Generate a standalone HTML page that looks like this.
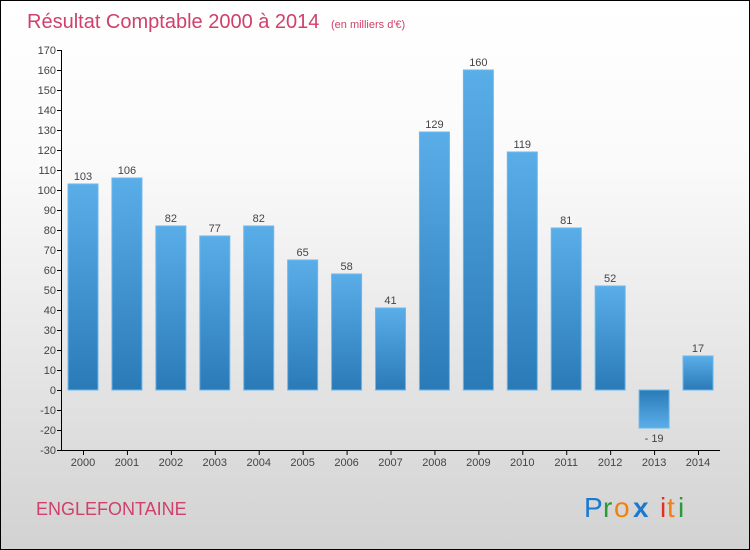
<!DOCTYPE html>
<html><head><meta charset="utf-8"><style>
body{margin:0}
#c{width:748px;height:548px;border:1px solid #000;background:linear-gradient(#fff,#fafafa 30%,#d2d2d2);position:relative;overflow:hidden;font-family:"Liberation Sans",sans-serif}
</style></head><body>
<div id="c">
<svg id="s" width="748" height="548">
<defs>
<linearGradient id="g" x1="0" y1="0" x2="0" y2="1"><stop offset="0" stop-color="#5aaee8"/><stop offset="1" stop-color="#2a7ab8"/></linearGradient>
<linearGradient id="gn" x1="0" y1="0" x2="0" y2="1"><stop offset="0" stop-color="#2a7ab8"/><stop offset="1" stop-color="#5aaee8"/></linearGradient>
</defs>
<text x="26" y="27" font-size="20" fill="#d0406a">Résultat Comptable 2000 à 2014 <tspan font-size="11" dx="6">(en milliers d'€)</tspan></text>
<text x="35" y="514" font-size="18" fill="#d0406a">ENGLEFONTAINE</text>
<g font-size="28" font-family="'Liberation Sans',sans-serif">
<text x="583" y="516" fill="#1a7ad0">P</text><text x="602" y="516" fill="#2a9a3a">r</text><text x="613" y="516" fill="#f08010">o</text><text x="632" y="516" fill="#1a7ad0" font-weight="bold">x</text><text x="659" y="516" fill="#e03020">i</text><text x="666" y="516" fill="#f08010">t</text><text x="677" y="516" fill="#2a9a3a">i</text>
</g>
<g id="plot"></g>
</svg>
</div>
<script>
const years=["2000","2001","2002","2003","2004","2005","2006","2007","2008","2009","2010","2011","2012","2013","2014"];
const values=[103,106,82,77,82,65,58,41,129,160,119,81,52,-19,17];
const yTicks=[170,160,150,140,130,120,110,100,90,80,70,60,50,40,30,20,10,0,-10,-20,-30];
const ns="http://www.w3.org/2000/svg";
const p=document.getElementById('plot');
const y=v=>389-v*2;
const x=i=>82+i*43.93;
function mk(t,a){const e=document.createElementNS(ns,t);for(const k in a)e.setAttribute(k,a[k]);p.appendChild(e);return e;}
const ax=mk('line',{x1:60.5,y1:49,x2:60.5,y2:449,stroke:'#000'});


const bx=mk('line',{x1:60,y1:449.5,x2:719,y2:449.5,stroke:'#000'});


yTicks.forEach(v=>{
 const l=mk('line',{x1:56,x2:61,y1:y(v)+.5,y2:y(v)+.5,stroke:'#000'});
 
 
 const t=mk('text',{x:55,y:y(v)+4,'font-size':11,fill:'#444','text-anchor':'end'});t.textContent=v;
 
 
});
years.forEach((yr,i)=>{
 const v=values[i],cx=x(i);
 const tk=mk('line',{x1:cx+.5,x2:cx+.5,y1:449,y2:454,stroke:'#000'});
 
 
 const t=mk('text',{x:cx,y:465,'font-size':11,fill:'#444','text-anchor':'middle'});t.textContent=yr;
 
 
 const top=Math.min(y(v),y(0)),h=Math.abs(v*2);
 const r=mk('rect',{x:cx-15,y:top,width:30,height:h,fill:v<0?'url(#gn)':'url(#g)',stroke:'#6ab8ee','stroke-width':1});
 
 
 const lb=mk('text',{x:cx,y:v<0?y(v)+14:y(v)-4,'font-size':11,fill:'#444','text-anchor':'middle'});lb.textContent=v<0?'- '+(-v):v;
 
 
});
</script>
</body></html>
